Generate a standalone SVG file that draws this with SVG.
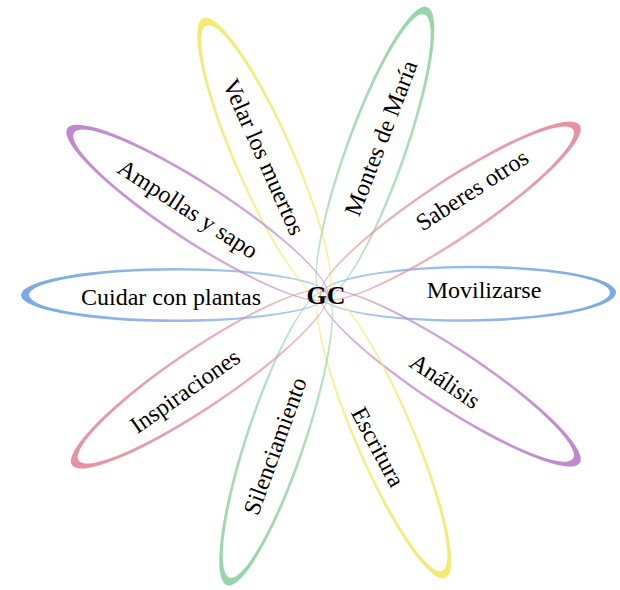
<svg xmlns="http://www.w3.org/2000/svg" width="620" height="590" viewBox="0 0 620 590">
<style>
.lbl{font-family:"Liberation Serif","Times New Roman",serif;font-size:24px;fill:#000;text-anchor:middle}
.gc{font-family:"Liberation Serif","Times New Roman",serif;font-size:26px;font-weight:bold;fill:#000;text-anchor:middle}
.cres{fill-rule:evenodd}
</style>
<defs>
<linearGradient id="gBlue" x1="0" y1="0" x2="1" y2="0"><stop offset="0" stop-color="#7aa9e4" stop-opacity="0.6"/><stop offset="0.5" stop-color="#7aa9e4" stop-opacity="0.8"/><stop offset="1" stop-color="#7aa9e4"/></linearGradient>
<linearGradient id="gYellow" x1="0" y1="0" x2="1" y2="0"><stop offset="0" stop-color="#f2ea72" stop-opacity="0.6"/><stop offset="0.5" stop-color="#f2ea72" stop-opacity="0.8"/><stop offset="1" stop-color="#f2ea72"/></linearGradient>
<linearGradient id="gGreen" x1="0" y1="0" x2="1" y2="0"><stop offset="0" stop-color="#97d4a9" stop-opacity="0.6"/><stop offset="0.5" stop-color="#97d4a9" stop-opacity="0.8"/><stop offset="1" stop-color="#97d4a9"/></linearGradient>
<linearGradient id="gPink" x1="0" y1="0" x2="1" y2="0"><stop offset="0" stop-color="#e4939f" stop-opacity="0.6"/><stop offset="0.5" stop-color="#e4939f" stop-opacity="0.8"/><stop offset="1" stop-color="#e4939f"/></linearGradient>
<linearGradient id="gPurple" x1="0" y1="0" x2="1" y2="0"><stop offset="0" stop-color="#bf88cc" stop-opacity="0.6"/><stop offset="0.5" stop-color="#bf88cc" stop-opacity="0.8"/><stop offset="1" stop-color="#bf88cc"/></linearGradient>
</defs>
<g id="petals">
<g id="cuidar" transform="translate(324 295) rotate(180)">
<path class="cres" fill="url(#gBlue)" d="M-4 0A153.5 27 0 1 0 303 0A153.5 27 0 1 0 -4 0ZM-3 0A149 24.5 0 1 0 295 0A149 24.5 0 1 0 -3 0Z"/>
</g>
<g id="movilizarse" transform="translate(324 295) rotate(-0.5)">
<path class="cres" fill="url(#gBlue)" d="M-4 0A148 28 0 1 0 292 0A148 28 0 1 0 -4 0ZM-3 0A144.5 25.5 0 1 0 286 0A144.5 25.5 0 1 0 -3 0Z"/>
</g>
<g id="velar" transform="translate(324 295) rotate(-113.6)">
<path class="cres" fill="url(#gYellow)" d="M-4 0A153 30 0 1 0 302 0A153 30 0 1 0 -4 0ZM-3 0A148.5 27.5 0 1 0 294 0A148.5 27.5 0 1 0 -3 0Z"/>
</g>
<g id="montes" transform="translate(324 295) rotate(-70.3)">
<path class="cres" fill="url(#gGreen)" d="M-4 0A155 30 0 1 0 306 0A155 30 0 1 0 -4 0ZM-3 0A150.5 27.5 0 1 0 298 0A150.5 27.5 0 1 0 -3 0Z"/>
</g>
<g id="saberes" transform="translate(324 295) rotate(-33.6)">
<path class="cres" fill="url(#gPink)" d="M-4 0A155.5 30 0 1 0 307 0A155.5 30 0 1 0 -4 0ZM-3 0A151 27.5 0 1 0 299 0A151 27.5 0 1 0 -3 0Z"/>
</g>
<g id="ampollas" transform="translate(324 295) rotate(-147)">
<path class="cres" fill="url(#gPurple)" d="M-4 0A155 30 0 1 0 306 0A155 30 0 1 0 -4 0ZM-3 0A150.5 27.5 0 1 0 298 0A150.5 27.5 0 1 0 -3 0Z"/>
</g>
<g id="analisis" transform="translate(324 295) rotate(33.3)">
<path class="cres" fill="url(#gPurple)" d="M-4 0A155 30 0 1 0 306 0A155 30 0 1 0 -4 0ZM-3 0A150.5 27.5 0 1 0 298 0A150.5 27.5 0 1 0 -3 0Z"/>
</g>
<g id="escritura" transform="translate(324 295) rotate(66.8)">
<path class="cres" fill="url(#gYellow)" d="M-4 0A156 30 0 1 0 308 0A156 30 0 1 0 -4 0ZM-3 0A151.5 27.5 0 1 0 300 0A151.5 27.5 0 1 0 -3 0Z"/>
</g>
<g id="silenciamiento" transform="translate(324 295) rotate(108.5)">
<path class="cres" fill="url(#gGreen)" d="M-4 0A155 30 0 1 0 306 0A155 30 0 1 0 -4 0ZM-3 0A150.5 27.5 0 1 0 298 0A150.5 27.5 0 1 0 -3 0Z"/>
</g>
<g id="inspiraciones" transform="translate(324 295) rotate(146)">
<path class="cres" fill="url(#gPink)" d="M-4 0A154 30 0 1 0 304 0A154 30 0 1 0 -4 0ZM-3 0A149.5 27.5 0 1 0 296 0A149.5 27.5 0 1 0 -3 0Z"/>
</g>
</g>
<g id="labels">
<text class="lbl" transform="translate(171 297)" y="8">Cuidar con plantas</text>
<text class="lbl" transform="translate(484 290)" y="8">Movilizarse</text>
<text class="lbl" transform="translate(264 157) rotate(66)" y="8">Velar los muertos</text>
<text class="lbl" transform="translate(381 138) rotate(-69)" y="8">Montes de María</text>
<text class="lbl" transform="translate(472 190) rotate(-33)" y="8">Saberes otros</text>
<text class="lbl" transform="translate(188 209) rotate(33)" y="8">Ampollas y sapo</text>
<text class="lbl" transform="translate(445 381) rotate(34)" y="8">Análisis</text>
<text class="lbl" transform="translate(378 447) rotate(62)" y="8">Escritura</text>
<text class="lbl" transform="translate(275 446) rotate(-70)" y="8">Silenciamiento</text>
<text class="lbl" transform="translate(185 391) rotate(-35)" y="8">Inspiraciones</text>
</g>
<g id="gc"><text class="gc" x="326" y="304">GC</text></g>
</svg>
